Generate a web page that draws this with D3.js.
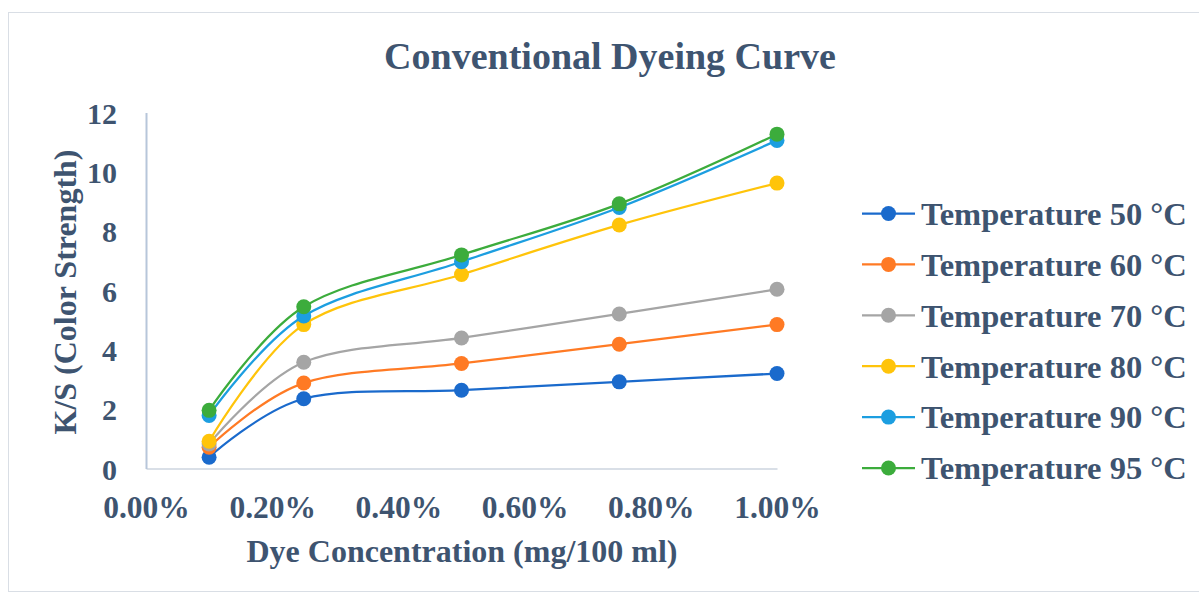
<!DOCTYPE html>
<html>
<head>
<meta charset="utf-8">
<script src="https://cdn.jsdelivr.net/npm/d3@7"></script>
<style>
  html, body { margin: 0; padding: 0; background: #fff; }
  svg { display: block; }
  text { font-family: "Liberation Serif", "Times New Roman", serif; font-weight: bold; fill: #3E5470; }
</style>
</head>
<body>
<svg id="chart" width="1199" height="595"></svg>
<script>
// Dye concentration (as a fraction, shown as %)
const concentrations = [0.001, 0.0025, 0.005, 0.0075, 0.01];

// K/S values per dyeing temperature
const seriesNames = ["Temperature 50 °C", "Temperature 60 °C", "Temperature 70 °C",
                     "Temperature 80 °C", "Temperature 90 °C", "Temperature 95 °C"];
const temp50 = [0.38, 2.35, 2.64, 2.92, 3.20];
const temp60 = [0.72, 2.88, 3.54, 4.19, 4.85];
const temp70 = [0.83, 3.58, 4.40, 5.21, 6.04];
const temp80 = [0.92, 4.85, 6.54, 8.21, 9.62];
const temp90 = [1.79, 5.14, 6.97, 8.80, 11.06];
const temp95 = [1.96, 5.45, 7.20, 8.92, 11.27];
const seriesValues = [temp50, temp60, temp70, temp80, temp90, temp95];
const seriesColors = ["#1A6ACC", "#FF7A24", "#A5A5A5", "#FFC40A", "#1C9EE0", "#3CAC3C"];

// Axis ticks
const xTicks = [0, 0.002, 0.004, 0.006, 0.008, 0.01];
const yTicks = [0, 2, 4, 6, 8, 10, 12];

const svg = d3.select("#chart");

// Chart frame
svg.append("rect")
  .attr("x", 8.5).attr("y", 12.5)
  .attr("width", 1195).attr("height", 579)
  .attr("fill", "#fff").attr("stroke", "#D9DEE5").attr("stroke-width", 1);

const x = d3.scaleLinear().domain([0, 0.01]).range([146, 777]);
const y = d3.scaleLinear().domain([0, 12]).range([468.5, 112.5]);

// Title
svg.append("text")
  .attr("x", 610).attr("y", 69)
  .attr("text-anchor", "middle")
  .style("font-size", "38px")
  .text("Conventional Dyeing Curve");

// X axis
const xAxis = svg.append("g")
  .attr("transform", `translate(0,${y(0)})`)
  .call(d3.axisBottom(x).tickValues(xTicks).tickFormat(d3.format(".2%")).tickSize(0).tickPadding(0));
xAxis.select(".domain").attr("stroke", "#D9DFE7").attr("stroke-width", 2);
xAxis.selectAll("text")
  .attr("y", 49).attr("dy", null)
  .style("font-size", "31.5px");

// Y axis
const yAxis = svg.append("g")
  .attr("transform", `translate(${x(0)},0)`)
  .call(d3.axisLeft(y).tickValues(yTicks).tickFormat(d3.format("d")).tickSize(0).tickPadding(29));
yAxis.select(".domain").attr("stroke", "#B7C6DA").attr("stroke-width", 2);
yAxis.selectAll("text")
  .attr("dy", "0.35em")
  .style("font-size", "30px");

// Axis titles
svg.append("text")
  .attr("x", 462).attr("y", 562)
  .attr("text-anchor", "middle")
  .style("font-size", "32px")
  .text("Dye Concentration (mg/100 ml)");

svg.append("text")
  .attr("transform", "translate(76,292) rotate(-90)")
  .attr("text-anchor", "middle")
  .style("font-size", "32px")
  .text("K/S (Color Strength)");

// Smoothed series lines and markers
const line = d3.line()
  .x(d => x(d[0]))
  .y(d => y(d[1]))
  .curve(d3.curveCardinal.tension(0));

seriesValues.forEach((vals, i) => {
  const pts = concentrations.map((c, j) => [c, vals[j]]);
  const g = svg.append("g");
  g.append("path")
    .attr("d", line(pts))
    .attr("fill", "none")
    .attr("stroke", seriesColors[i])
    .attr("stroke-width", 2.25);
  g.selectAll("circle").data(pts).join("circle")
    .attr("cx", d => x(d[0]))
    .attr("cy", d => y(d[1]))
    .attr("r", 7.5)
    .attr("fill", seriesColors[i]);
});

// Legend
const legend = svg.append("g");
seriesNames.forEach((name, i) => {
  const cy = 213.5 + i * 50.9;
  legend.append("line")
    .attr("x1", 862).attr("x2", 915)
    .attr("y1", cy).attr("y2", cy)
    .attr("stroke", seriesColors[i]).attr("stroke-width", 2.25);
  legend.append("circle")
    .attr("cx", 888.5).attr("cy", cy).attr("r", 7.5)
    .attr("fill", seriesColors[i]);
  legend.append("text")
    .attr("x", 921).attr("y", cy).attr("dy", "0.35em")
    .style("font-size", "32.5px")
    .text(name);
});
</script>
</body>
</html>
